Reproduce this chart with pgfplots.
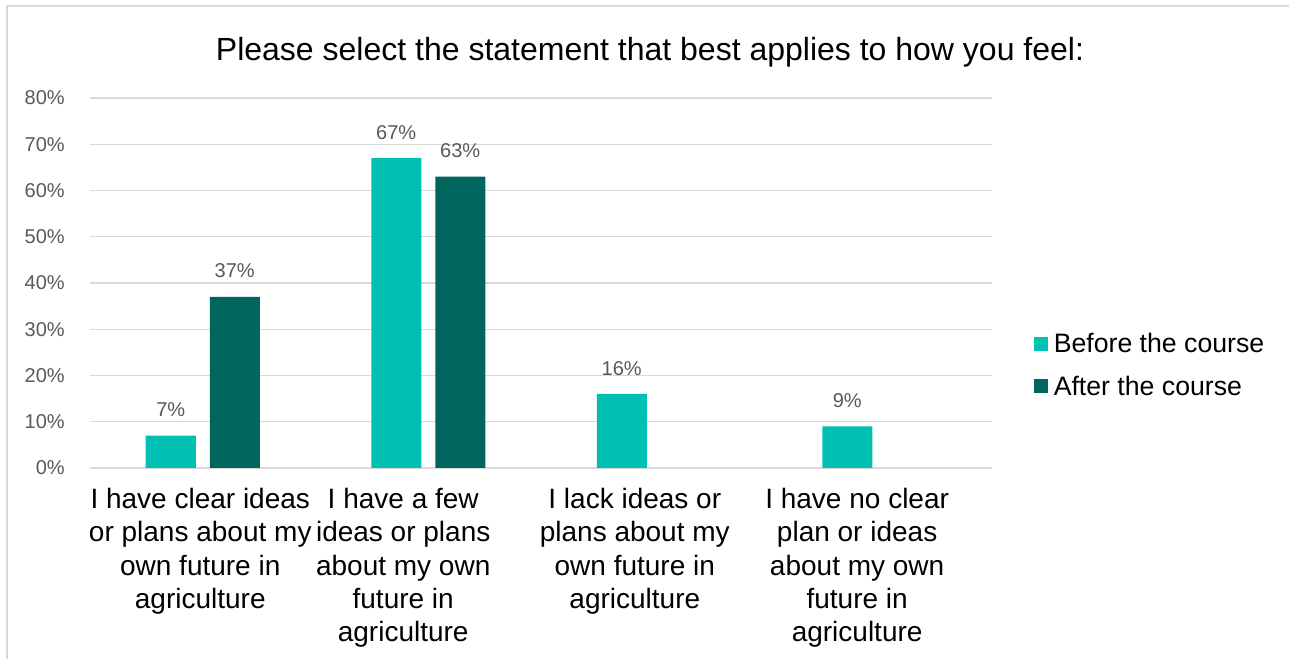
\documentclass[border=0pt]{standalone}
\usepackage{fontspec}
\setmainfont{Liberation Sans}
\usepackage{pgfplots}
\pgfplotsset{compat=1.18}
\definecolor{before}{HTML}{00BFB3}
\definecolor{after}{HTML}{00655D}
\definecolor{gridc}{HTML}{D9D9D9}
\definecolor{tickc}{HTML}{595959}
\begin{document}
\begin{tikzpicture}[x=1pt,y=1pt]
\path[use as bounding box] (0,0) rectangle (966.75,494.25);
\draw[gridc, line width=1.2pt] (5.25,0) -- (5.25,489.75) -- (966.75,489.75);
\node[font=\fontsize{24}{28}\selectfont] at (487.5,455.25) {Please select the statement that best applies to how you feel:};
\begin{axis}[
  at={(67.5pt,143.25pt)}, anchor=south west,
  scale only axis, width=676.5pt, height=277.5pt,
  ymin=0, ymax=80, xmin=-0.5, xmax=3.5,
  ybar=10.5pt, bar width=37.5pt,
  axis line style={draw=none},
  major tick length=0pt,
  ymajorgrids, grid style={gridc, line width=0.9pt},
  ytick={0,10,...,80},
  yticklabel={\pgfmathprintnumber{\tick}\%},
  /pgf/number format/assume math mode=true,
  y tick label style={font=\fontsize{15}{18}\selectfont, text=tickc, inner sep=0pt, anchor=east, xshift=-18.75pt},
  xtick={-0.011,0.889,1.916,2.902},
  xticklabels={{I have clear ideas\\or plans about my\\own future in\\agriculture},
               {I have a few\\ideas or plans\\about my own\\future in\\agriculture},
               {I lack ideas or\\plans about my\\own future in\\agriculture},
               {I have no clear\\plan or ideas\\about my own\\future in\\agriculture}},
  x tick label style={font=\fontsize{21}{25}\selectfont, align=center, inner sep=0pt, anchor=north, yshift=-15pt},
  nodes near coords={\pgfmathprintnumber{\pgfplotspointmeta}\%},
  nodes near coords style={font=\fontsize{15}{18}\selectfont, text=tickc, yshift=10.5pt},
  legend style={at={(1.046,0.278)}, anchor=west, draw=none, font=\fontsize{20}{24}\selectfont, row sep=12pt, inner sep=0pt,
    nodes={inner xsep=4.5pt}},
  legend cell align=left,
]
\addplot[fill=before, draw=none, legend image code/.code={\fill[before] (0pt,-5.25pt) rectangle (10.5pt,5.25pt);}] coordinates {(0,7) (1,67) (2,16) (3,9)};
\addlegendentry{Before the course}
\addplot[fill=after, draw=none, legend image code/.code={\fill[after] (0pt,-5.25pt) rectangle (10.5pt,5.25pt);}] coordinates {(0,37) (1,63)};
\addlegendentry{After the course}
\end{axis}
\end{tikzpicture}
\end{document}
